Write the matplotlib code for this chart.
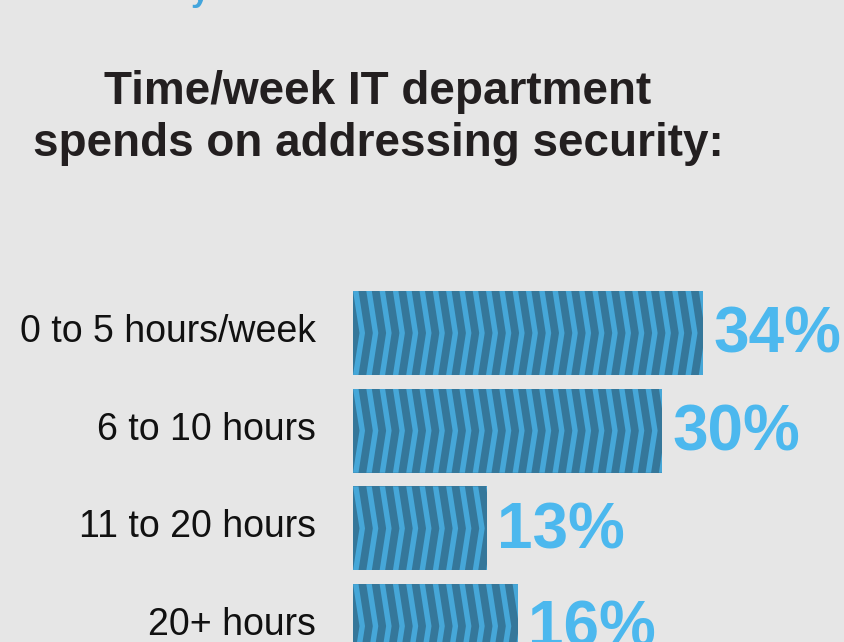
import matplotlib
matplotlib.use("Agg")
import matplotlib.pyplot as plt
from matplotlib.patches import Polygon

# data
categories = ["0 to 5 hours/week", "6 to 10 hours", "11 to 20 hours", "20+ hours"]
values = [34, 30, 13, 16]
value_labels = ["34%", "30%", "13%", "16%"]

BG = "#e6e6e6"
DARK = "#35779a"
LIGHT = "#46a7d8"
PCT = "#4cb8ee"
TITLE = "#231f20"

W, H = 844, 642
fig = plt.figure(figsize=(W / 100, H / 100), dpi=100, facecolor=BG)

# axes from bar base (x=353px) to right edge, full height
ax = fig.add_axes([353 / W, 0, 1 - 353 / W, 1])
ax.set_facecolor(BG)
px_per_unit = 10.3
ax.set_xlim(0, (W - 353) / px_per_unit)
spacing = 97.7
ax.set_ylim((H - 333) / spacing, -333 / spacing)
ax.axis("off")

bar_h = 0.86
# chevron geometry in px, converted to data units
period = 13.3 / px_per_unit
stripe = 5.5 / px_per_unit
offset = 6.5 / px_per_unit

for i, (cat, v, lab) in enumerate(zip(categories, values, value_labels)):
    bar = ax.barh(i, v, height=bar_h, color=DARK, edgecolor="none")[0]
    top, bot = i - bar_h / 2, i + bar_h / 2
    x0 = -period
    while x0 < v:
        pts = [(x0, top), (x0 + stripe, top), (x0 + stripe + offset, i),
               (x0 + stripe, bot), (x0, bot), (x0 + offset, i)]
        poly = Polygon(pts, closed=True, facecolor=LIGHT, edgecolor="none")
        ax.add_patch(poly)
        poly.set_clip_path(bar)
        x0 += period
    ax.text(v + 10 / px_per_unit, i + 20 / spacing, lab, color=PCT,
            fontsize=46, fontweight="bold", family="Liberation Sans",
            ha="left", va="baseline", clip_on=False)
    ax.text(-37 / px_per_unit, i + 9 / spacing, cat, fontsize=27,
            family="Liberation Sans", color="#111111",
            ha="right", va="baseline", clip_on=False)

# title
fig.text(378 / W, 1 - 104 / H, "Time/week IT department", fontsize=33,
         fontweight="bold", family="Liberation Sans", color=TITLE,
         ha="center", va="baseline")
fig.text(378 / W, 1 - 156 / H, "spends on addressing security:", fontsize=33,
         fontweight="bold", family="Liberation Sans", color=TITLE,
         ha="center", va="baseline")

# cut-off heading above the figure
fig.text(191 / W, 1 - 1 / H, "y", fontsize=24, fontweight="bold",
         family="Liberation Sans", color="#43a5dc", ha="left", va="baseline")

fig.savefig("out.png", dpi=100, facecolor=BG)
